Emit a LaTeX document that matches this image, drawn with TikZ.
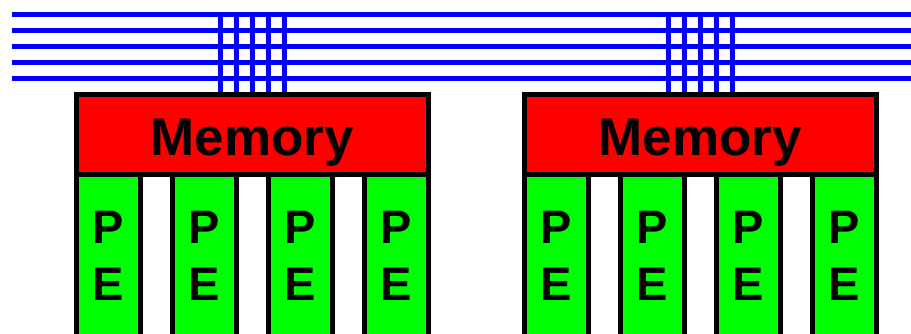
\documentclass[tikz,border=0pt]{standalone}
\usepackage{fontspec}
\setmainfont{Liberation Sans}
\usetikzlibrary{backgrounds}
\definecolor{busblue}{RGB}{0,0,255}
\definecolor{memred}{RGB}{255,0,0}
\definecolor{pegreen}{RGB}{0,255,0}
\begin{document}
\begin{tikzpicture}[x=1pt,y=-1pt,
  bus/.style={draw=busblue, line width=5pt},
  membox/.style={rectangle, draw=black, fill=memred, line width=5pt, inner sep=0pt,
    minimum width=352pt, minimum height=80pt,
    font=\bfseries\fontsize{53}{60}\selectfont, text height=42pt, text depth=0pt},
  pebox/.style={rectangle, draw=black, fill=pegreen, line width=5pt, inner sep=0pt,
    minimum width=64pt, minimum height=164pt, align=center,
    font=\bfseries\fontsize{47}{57}\selectfont}]
  \useasboundingbox (0,0) rectangle (911,333);
  \clip (0,0) rectangle (911,333);

  % two clusters: a shared memory above four processing elements
  \foreach \g/\cx in {A/252, B/700} {
    \foreach \i in {1,...,4}
      \node[pebox] (pe\g\i) at ({\cx-144+96*(\i-1)},256) {P\\E};
    \node[membox] (mem\g) at (\cx,134) {Memory};
  }

  \begin{scope}[on background layer]
    % horizontal interconnect lines
    \foreach \j in {0,...,4} {
      \coordinate (w\j) at (12,{14+16*\j});
      \coordinate (e\j) at (916,{14+16*\j});
      \draw[bus] (w\j) -- (e\j);
    }
    % vertical taps from the interconnect down to each memory
    \foreach \g/\cx in {A/252, B/700}
      \foreach \k in {-2,...,2} {
        \coordinate (t\g\k) at ({\cx+16*\k},11.5);
        \draw[bus] (t\g\k) -- (t\g\k |- mem\g.north);
      }
  \end{scope}
\end{tikzpicture}
\end{document}
